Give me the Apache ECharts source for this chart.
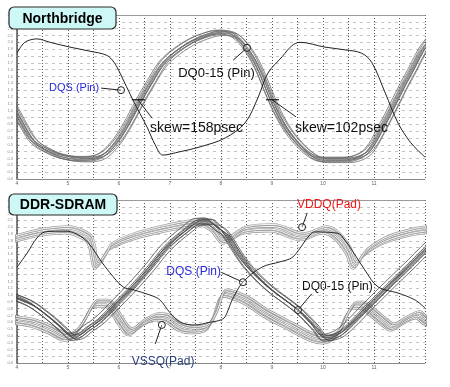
<!DOCTYPE html>
<html><head><meta charset="utf-8">
<script src="https://cdn.jsdelivr.net/npm/echarts@6/dist/echarts.min.js"></script>
<style>html,body{margin:0;padding:0;background:#fff}#c{width:450px;height:387px}</style>
</head><body><div id="c"></div>
<script>
// ---- Data (time in ns, voltage in V) ----
const titles = ['Northbridge', 'DDR-SDRAM'];
const xTicks = [4, 5, 6, 7, 8, 9, 10, 11];

// Northbridge: DQS (Pin)
const topDQS = [[4.00,1.84],[4.10,1.96],[4.20,2.02],[4.39,2.05],[4.65,2.00],[5.04,1.93],[5.43,1.87],[5.76,1.81],[5.90,1.71],[6.02,1.55],[6.27,1.16],[6.55,0.76],[6.71,0.50],[6.86,0.35],[7.20,0.40],[7.59,0.47],[8.08,0.60],[8.47,0.82],[8.73,1.20],[8.92,1.55],[9.20,1.79],[9.39,1.95],[9.55,2.00],[10.04,1.93],[10.43,1.89],[10.76,1.84],[10.96,1.70],[11.22,1.26],[11.47,0.82],[11.71,0.54],[11.86,0.42],[12.00,0.32]];
// Northbridge: DQ0-15 (Pin) centre trace
const topDQ = [[3.80,1.25],[4.00,0.97],[4.16,0.75],[4.35,0.54],[4.65,0.40],[4.94,0.32],[5.29,0.29],[5.63,0.32],[5.92,0.50],[6.18,0.79],[6.41,1.11],[6.65,1.42],[6.86,1.67],[7.06,1.82],[7.39,1.99],[7.69,2.09],[7.98,2.14],[8.22,2.12],[8.47,1.96],[8.73,1.64],[9.00,1.16],[9.25,0.79],[9.55,0.50],[9.84,0.32],[10.04,0.28],[10.43,0.28],[10.69,0.31],[10.92,0.42],[11.16,0.72],[11.41,1.08],[11.61,1.38],[11.75,1.57],[11.90,1.79],[12.00,1.92],[12.20,2.10]];
const topDQSkew  = [-0.09,-0.07,-0.05,-0.035,-0.02,-0.005,0.01,0.03,0.05,0.07];
const topDQLevel = [0.03,-0.02,0.04,0.00,-0.03,0.02,-0.01,0.03,-0.04,0.01];

// DDR-SDRAM: DQS (Pin)
const botDQS = [[4.00,1.41],[4.20,1.62],[4.39,1.84],[4.55,1.93],[4.75,1.94],[4.98,1.94],[5.24,1.87],[5.43,1.74],[5.63,1.52],[5.82,1.33],[6.08,1.12],[6.27,1.08],[6.61,1.00],[6.80,0.93],[7.00,0.74],[7.20,0.60],[7.49,0.56],[7.78,0.60],[7.98,0.63],[8.08,0.68],[8.22,0.93],[8.43,1.19],[8.80,1.41],[9.16,1.49],[9.39,1.55],[9.55,1.69],[9.69,1.84],[9.84,1.93],[10.29,1.91],[10.43,1.81],[10.57,1.66],[10.82,1.37],[11.08,1.12],[11.47,1.03],[11.80,0.93],[12.00,0.81]];
// DDR-SDRAM: DQ0-15 (Pin) centre trace
const botDQ = [[3.80,1.02],[4.00,0.96],[4.25,0.88],[4.45,0.78],[4.75,0.60],[4.98,0.44],[5.08,0.38],[5.24,0.41],[5.37,0.49],[5.63,0.63],[5.96,0.88],[6.27,1.12],[6.61,1.41],[6.94,1.71],[7.33,1.96],[7.59,2.08],[7.78,2.08],[7.92,2.00],[8.08,1.91],[8.47,1.47],[8.92,1.12],[9.51,0.78],[9.84,0.53],[10.04,0.37],[10.24,0.40],[10.43,0.49],[10.88,0.83],[11.35,1.18],[11.75,1.47],[12.00,1.66],[12.20,1.80]];
const botDQSkew  = [-0.08,-0.06,-0.04,-0.02,0.00,0.02,0.04,0.06,0.08];
const botDQLevel = [0.05,-0.03,0.02,-0.05,0.00,0.04,-0.02,0.03,-0.04];
// DDR-SDRAM: VDDQ (Pad)
const botVDDQ = [[3.80,1.80],[4.00,1.84],[4.25,1.89],[4.51,1.93],[4.98,1.96],[5.24,1.91],[5.43,1.81],[5.57,1.44],[5.73,1.59],[5.82,1.71],[6.27,1.86],[6.94,1.99],[7.45,2.06],[7.59,2.08],[7.84,2.00],[8.08,1.81],[8.47,1.96],[9.00,1.99],[9.59,1.86],[10.04,1.96],[10.29,1.86],[10.49,1.66],[10.63,1.44],[10.82,1.62],[11.22,1.81],[11.75,1.93],[12.00,1.96],[12.20,1.98]];
// DDR-SDRAM: VSSQ (Pad)
const botVSSQ = [[3.80,0.66],[4.00,0.63],[4.31,0.59],[4.65,0.49],[4.98,0.38],[5.14,0.44],[5.29,0.59],[5.47,0.83],[5.57,0.88],[5.76,0.88],[5.92,0.75],[6.02,0.63],[6.22,0.46],[6.47,0.59],[6.75,0.68],[6.94,0.66],[7.20,0.53],[7.45,0.49],[7.73,0.53],[7.88,0.71],[8.08,1.03],[8.47,0.93],[8.86,0.74],[9.39,0.53],[9.78,0.38],[10.04,0.34],[10.29,0.44],[10.49,0.74],[10.63,0.85],[10.76,0.85],[10.96,0.75],[11.22,0.59],[11.35,0.53],[11.61,0.63],[11.86,0.71],[12.00,0.63],[12.20,0.58]];
const padSkew  = [-0.04,-0.01,0.02,0.04];
const padLevel = [-0.05,-0.02,0.02,0.05];

// Annotations (data coordinates): [grid, text, textX, textY, align, leaderX, leaderY, pointX, pointY, colour, size, marker]
const notes = [
  [0,'DQS (Pin)',5.61,1.33,'right',5.65,1.33,6.04,1.30,'#2b2bdc',11,'circle'],
  [0,'DQ0-15 (Pin)',7.16,1.55,'left',8.24,1.74,8.51,1.92,'#111',13,'circle'],
  [0,'skew=158psec',6.61,0.75,'left',6.65,0.89,6.37,1.16,'#111',14,'cross'],
  [0,'skew=102psec',9.45,0.75,'left',9.47,0.91,9.00,1.16,'#111',14,'cross'],
  [1,'VDDQ(Pad)',9.49,2.33,'left',9.69,2.21,9.59,2.00,'#f01818',12,'circle'],
  [1,'DQS (Pin)',8.00,1.34,'right',8.02,1.33,8.43,1.19,'#2b2bdc',12,'circle'],
  [1,'DQ0-15 (Pin)',9.59,1.12,'left',9.78,1.02,9.51,0.78,'#111',12,'circle'],
  [1,'VSSQ(Pad)',6.25,0.02,'left',6.71,0.28,6.84,0.56,'#2a3f7a',12,'circle']
];

// ---- Chart ----
const chart = echarts.init(document.getElementById('c'), null, {renderer:'canvas'});
const FONT = '"Liberation Sans", Arial, sans-serif';
const grids = [
  {left:17, top:15, width:408, height:164},
  {left:17, top:200, width:408, height:163}
];
function xAxisFor(g){
  return {type:'value', gridIndex:g, min:4, max:12, interval:0.5,
    axisLine:{lineStyle:{color:'#8a8a8a', width:1}}, axisTick:{show:false},
    axisLabel:{fontSize:5, color:'#666', margin:2, fontFamily:FONT,
      formatter:v => xTicks.indexOf(v) >= 0 ? String(v) : ''},
    splitLine:{show:true, lineStyle:{color:'#555', width:1, type:[1,2]}}};
}
function topAxisFor(g){
  return {type:'value', gridIndex:g, position:'top', min:4, max:12,
    axisLine:{show:true, lineStyle:{color:'#9a9a9a', width:1}}, axisTick:{show:false},
    axisLabel:{show:false}, splitLine:{show:false}};
}
function yAxisFor(g){
  return {type:'value', gridIndex:g, min:0, max:2.4, interval:0.1,
    axisLine:{show:true, lineStyle:{color:'#555', width:1.5}},
    axisTick:{show:true, inside:true, length:2, lineStyle:{color:'#777'}},
    axisLabel:{fontSize:4, color:'#888', margin:4, fontFamily:FONT, formatter:v=>v.toFixed(1)},
    splitLine:{show:true, lineStyle:{color:'#c4c4c4', width:1, type:[3,4]}}};
}
function line(data, g, color, width, z){
  return {type:'line', xAxisIndex:g, yAxisIndex:g, data:data, smooth:0.35, symbol:'none',
    clip:true, silent:true, z:z||2, lineStyle:{color:color, width:width}};
}
function bundle(base, skews, levels, g, color, width, z){
  return skews.map((s,i) => line(base.map(p => [p[0]+s, p[1]+levels[i]]), g, color, width, z));
}
// hollow (double-edged) traces for the pad bundles
function hollowBundle(base, skews, levels, g, color){
  const out = [];
  skews.forEach((s,i) => {
    const d = base.map(p => [p[0]+s, p[1]+levels[i]]);
    out.push(line(d, g, color, 2.4, 2));
    out.push(line(d, g, '#ffffff', 0.9, 2));
  });
  return out;
}
const series = [].concat(
  bundle(topDQ, topDQSkew, topDQLevel, 0, '#6c6c6c', 0.8, 2),
  [line(topDQS, 0, '#222', 1, 3)],
  hollowBundle(botVDDQ, padSkew, padLevel, 1, '#a0a0a0'),
  hollowBundle(botVSSQ, padSkew, padLevel, 1, '#959595'),
  bundle(botDQ, botDQSkew, botDQLevel, 1, '#4a4a4a', 0.8, 3),
  [line(botDQS, 1, '#111', 0.9, 4)]
);
chart.setOption({
  animation:false, backgroundColor:'#fff',
  grid: grids,
  xAxis:[xAxisFor(0), xAxisFor(1), topAxisFor(0), topAxisFor(1)],
  yAxis:[yAxisFor(0), yAxisFor(1)],
  series: series
});

// annotations & title boxes, positioned through the axes
const gr = [];
notes.forEach(n => {
  const t = chart.convertToPixel({gridIndex:n[0]}, [n[2], n[3]]);
  const l = chart.convertToPixel({gridIndex:n[0]}, [n[5], n[6]]);
  const p = chart.convertToPixel({gridIndex:n[0]}, [n[7], n[8]]);
  gr.push({type:'line', z:20, shape:{x1:l[0], y1:l[1], x2:p[0], y2:p[1]}, style:{stroke:'#222', lineWidth:1}});
  if (n[11] === 'circle') {
    gr.push({type:'circle', z:21, shape:{cx:p[0], cy:p[1], r:3.5}, style:{fill:'rgba(255,255,255,0.3)', stroke:'#222', lineWidth:1}});
  } else {
    gr.push({type:'line', z:21, shape:{x1:p[0]-6, y1:p[1], x2:p[0]+7, y2:p[1]}, style:{stroke:'#111', lineWidth:1.2}});
  }
  gr.push({type:'text', z:22, x:t[0], y:t[1], style:{text:n[1], fill:n[9], font:n[10]+'px '+FONT, align:n[4], verticalAlign:'middle'}});
});
[[9,7,107,22],[9,194,108,21]].forEach((b,i) => {
  gr.push({type:'rect', z:30, shape:{x:b[0], y:b[1], width:b[2], height:b[3], r:5}, style:{fill:'#cdf8f6', stroke:'#2a2a2a', lineWidth:1.2}});
  gr.push({type:'text', z:31, x:b[0]+b[2]/2, y:b[1]+b[3]/2+1, style:{text:titles[i], fill:'#000', font:'bold 14px '+FONT, align:'center', verticalAlign:'middle'}});
});
chart.setOption({graphic: gr});
</script></body></html>
